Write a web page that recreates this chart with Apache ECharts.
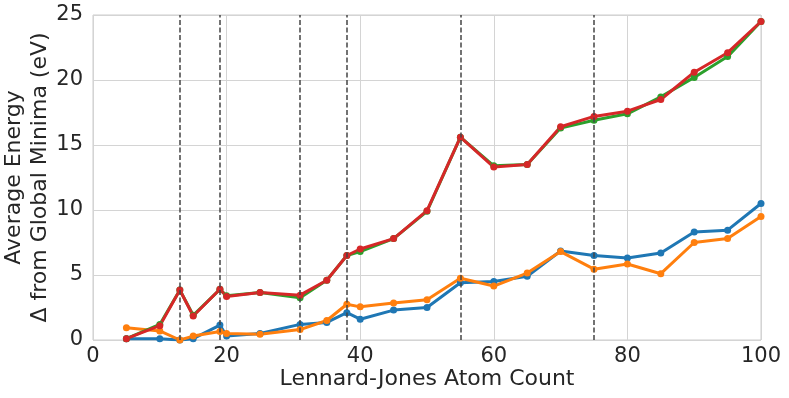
<!DOCTYPE html>
<html>
<head>
<meta charset="utf-8">
<script src="https://cdn.jsdelivr.net/npm/echarts@6/dist/echarts.min.js"></script>
<style>
  html, body { margin: 0; padding: 0; background: #fff; }
  #chart { width: 789px; height: 398px; }
</style>
</head>
<body>
<div id="chart"></div>
<script>
// atom counts sampled
const atomCounts = [5, 10, 13, 15, 19, 20, 25, 31, 35, 38, 40, 45, 50, 55, 60, 65, 70, 75, 80, 85, 90, 95, 100];
// average energy above global minimum (eV)
const blueVals   = [0.1, 0.1, 0.0, 0.1, 1.15, 0.3, 0.5, 1.2, 1.35, 2.1, 1.6, 2.3, 2.5, 4.4, 4.5, 4.9, 6.85, 6.5, 6.3, 6.7, 8.3, 8.45, 10.5];
const orangeVals = [0.95, 0.7, 0.0, 0.3, 0.65, 0.5, 0.45, 0.8, 1.5, 2.75, 2.55, 2.85, 3.1, 4.75, 4.15, 5.15, 6.8, 5.45, 5.85, 5.1, 7.5, 7.8, 9.5];
const greenVals  = [0.1, 1.2, 3.85, 1.9, 3.9, 3.4, 3.65, 3.25, 4.6, 6.5, 6.8, 7.8, 9.9, 15.6, 13.4, 13.5, 16.3, 16.9, 17.4, 18.7, 20.2, 21.8, 24.5];
const redVals    = [0.1, 1.1, 3.85, 1.85, 3.9, 3.35, 3.65, 3.45, 4.6, 6.5, 7.0, 7.8, 9.95, 15.6, 13.3, 13.5, 16.4, 17.2, 17.6, 18.5, 20.6, 22.1, 24.5];
// magic-number cluster sizes marked with dashed lines
const magicSizes = [13, 19, 31, 38, 55, 75];
const xTicks = [0, 20, 40, 60, 80, 100];
const yTicks = [0, 5, 10, 15, 20, 25];

const colors = ['#1f77b4', '#ff7f0e', '#2ca02c', '#d62728'];
const font = 'DejaVu Sans';

function pairs(vals) {
  return atomCounts.map((x, i) => [x, vals[i]]);
}

function lineSeries(name, vals, color) {
  return {
    name: name,
    type: 'line',
    data: pairs(vals),
    symbol: 'circle',
    symbolSize: 7,
    lineStyle: { color: color, width: 3 },
    itemStyle: { color: color },
    z: 3
  };
}

const chart = echarts.init(document.getElementById('chart'));
chart.setOption({
  animation: false,
  backgroundColor: '#fff',
  grid: {
    left: 93, right: 28, top: 15, bottom: 58,
    containLabel: false, outerBoundsMode: 'none',
    show: true, borderColor: '#cccccc', borderWidth: 1
  },
  xAxis: {
    type: 'value',
    min: xTicks[0], max: xTicks[xTicks.length - 1], interval: 20,
    name: 'Lennard-Jones Atom Count',
    nameLocation: 'middle', nameGap: 28, nameMoveOverlap: false,
    nameTextStyle: { fontFamily: font, fontSize: 22, color: '#262626' },
    axisLine: { show: false },
    axisTick: { show: false },
    axisLabel: { fontFamily: font, fontSize: 21, color: '#262626', margin: 6 },
    splitLine: { show: true, lineStyle: { color: '#d4d4d4', width: 1 } }
  },
  yAxis: {
    type: 'value',
    min: yTicks[0], max: yTicks[yTicks.length - 1], interval: 5,
    name: 'Average Energy\nΔ from Global Minima (eV)',
    nameLocation: 'middle', nameGap: 40, nameRotate: 90, nameMoveOverlap: false,
    nameTextStyle: { fontFamily: font, fontSize: 22, color: '#262626', lineHeight: 26 },
    axisLine: { show: false },
    axisTick: { show: false },
    axisLabel: { fontFamily: font, fontSize: 21, color: '#262626', margin: 10 },
    splitLine: { show: true, lineStyle: { color: '#d4d4d4', width: 1 } }
  },
  series: [
    {
      type: 'line',
      data: [],
      markLine: {
        silent: true,
        symbol: ['none', 'none'],
        label: { show: false },
        lineStyle: { color: '#444', type: [5, 2.5], width: 1.5 },
        data: magicSizes.map(v => ({ xAxis: v }))
      },
      z: 2
    },
    lineSeries('blue', blueVals, colors[0]),
    lineSeries('orange', orangeVals, colors[1]),
    lineSeries('green', greenVals, colors[2]),
    lineSeries('red', redVals, colors[3])
  ]
});
</script>
</body>
</html>
